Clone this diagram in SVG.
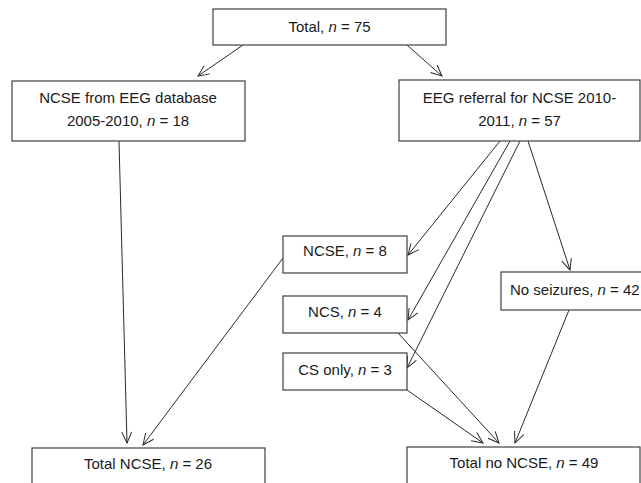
<svg xmlns="http://www.w3.org/2000/svg" width="641" height="483" viewBox="0 0 641 483">
<style>
.box{fill:#fff;stroke:#404040;stroke-width:1.2}
.t{font-family:"Liberation Sans",Arial,sans-serif;font-size:15px;fill:#1a1a1a;text-anchor:middle}
.i{font-style:italic}
.c{fill:none;stroke:#2a2a2a;stroke-width:1}
</style>
<defs>
<marker id="a" markerUnits="userSpaceOnUse" markerWidth="14" markerHeight="14" refX="12" refY="6" orient="auto" viewBox="0 0 14 12">
<polyline points="1,1 12,6 1,11" fill="none" stroke="#2a2a2a" stroke-width="1"/>
</marker>
</defs>
<rect width="641" height="483" fill="#fff"/>
<g id="connectors">
<line class="c" x1="243" y1="45" x2="198" y2="76" marker-end="url(#a)"/>
<line class="c" x1="407" y1="45" x2="442" y2="76" marker-end="url(#a)"/>
<line class="c" x1="119" y1="141" x2="127" y2="443" marker-end="url(#a)"/>
<line class="c" x1="283" y1="258" x2="143" y2="445" marker-end="url(#a)"/>
<line class="c" x1="500" y1="141" x2="408" y2="255" marker-end="url(#a)"/>
<line class="c" x1="510" y1="141" x2="408" y2="320" marker-end="url(#a)"/>
<line class="c" x1="520" y1="141" x2="407" y2="368" marker-end="url(#a)"/>
<line class="c" x1="528" y1="141" x2="570" y2="270" marker-end="url(#a)"/>
<line class="c" x1="407" y1="390" x2="483" y2="443" marker-end="url(#a)"/>
<line class="c" x1="398" y1="333" x2="499" y2="443" marker-end="url(#a)"/>
<line class="c" x1="569" y1="310" x2="515" y2="443" marker-end="url(#a)"/>
</g>
<g id="total">
<rect class="box" x="213" y="9" width="233" height="36"/>
<text class="t" x="329.5" y="32">Total, <tspan class="i">n</tspan> = 75</text>
</g>
<g id="ncse-db">
<rect class="box" x="12" y="81" width="233" height="60"/>
<text class="t" x="128" y="103">NCSE from EEG database</text>
<text class="t" x="128" y="126">2005-2010, <tspan class="i">n</tspan> = 18</text>
</g>
<g id="eeg-referral">
<rect class="box" x="399" y="80" width="241" height="61"/>
<text class="t" x="519.5" y="103">EEG referral for NCSE 2010-</text>
<text class="t" x="519.5" y="126">2011, <tspan class="i">n</tspan> = 57</text>
</g>
<g id="ncse">
<rect class="box" x="283" y="236" width="124" height="37"/>
<text class="t" x="345" y="256">NCSE, <tspan class="i">n</tspan> = 8</text>
</g>
<g id="ncs">
<rect class="box" x="283" y="296" width="124" height="37"/>
<text class="t" x="345" y="317">NCS, <tspan class="i">n</tspan> = 4</text>
</g>
<g id="cs-only">
<rect class="box" x="283" y="353" width="124" height="37"/>
<text class="t" x="345" y="375">CS only, <tspan class="i">n</tspan> = 3</text>
</g>
<g id="no-seizures">
<rect class="box" x="501" y="272" width="160" height="38"/>
<text class="t" x="510" y="295" style="text-anchor:start">No seizures, <tspan class="i">n</tspan> = 42</text>
</g>
<g id="total-ncse">
<rect class="box" x="32" y="448" width="233" height="45"/>
<text class="t" x="148" y="469">Total NCSE, <tspan class="i">n</tspan> = 26</text>
</g>
<g id="total-no-ncse">
<rect class="box" x="407" y="447" width="233" height="46"/>
<text class="t" x="524" y="468">Total no NCSE, <tspan class="i">n</tspan> = 49</text>
</g>
</svg>
